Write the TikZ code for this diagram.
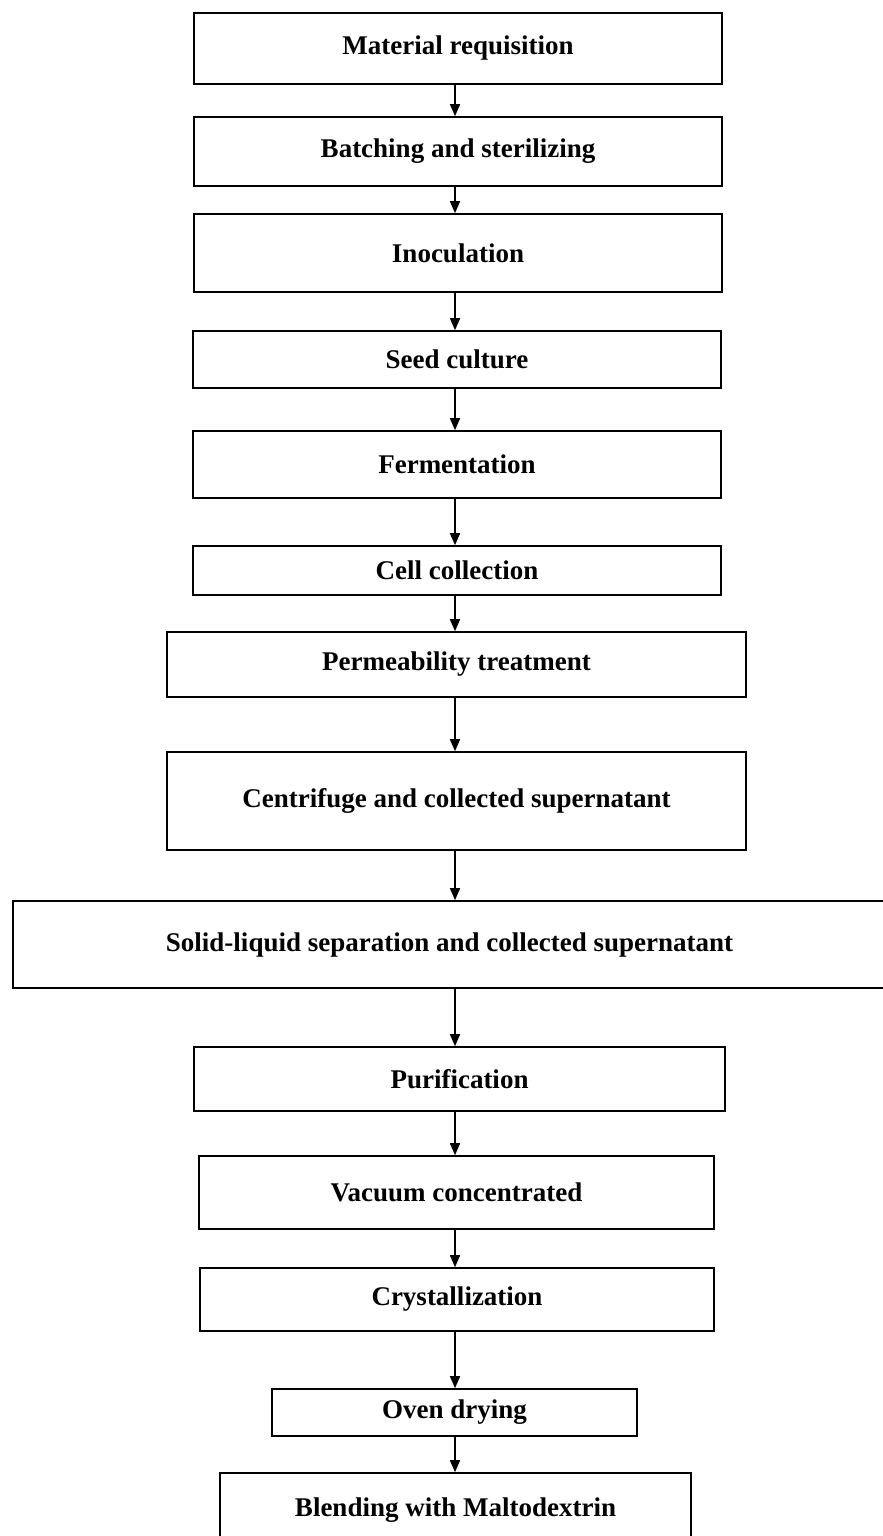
\documentclass[tikz,border=0pt]{standalone}
\usepackage{fontspec}
\setmainfont{Liberation Serif}
\usetikzlibrary{arrows.meta}
\begin{document}
\begin{tikzpicture}[x=1pt,y=-1pt,
  stepbox/.style={draw, line width=1.6pt, inner sep=0pt, align=center,
    font=\bfseries\fontsize{27}{32}\selectfont},
  arr/.style={line width=1.5pt, -{Triangle[length=12pt,width=10pt]}}]
\useasboundingbox (0,0) rectangle (883,1536);
\newcommand\flowbox[6]{%
  \node[stepbox, minimum width={(#4-#2)*1pt}, minimum height={(#5-#3)*1pt}]
    (#1) at ({(#2+#4)/2},{(#3+#5)/2}) {#6};}
\flowbox{m1}{194}{13}{722}{84}{Material requisition}
\flowbox{m2}{194}{117}{722}{186}{Batching and sterilizing}
\flowbox{m3}{194}{214}{722}{292}{Inoculation}
\flowbox{m4}{193}{331}{721}{388}{Seed culture}
\flowbox{m5}{193}{431}{721}{498}{Fermentation}
\flowbox{m6}{193}{546}{721}{595}{Cell collection}
\flowbox{m7}{167}{632}{746}{697}{Permeability treatment}
\flowbox{m8}{167}{752}{746}{850}{Centrifuge and collected supernatant}
\flowbox{m9}{13}{901}{886}{988}{Solid-liquid separation and collected supernatant}
\flowbox{m10}{194}{1047}{725}{1111}{Purification}
\flowbox{m11}{199}{1156}{714}{1229}{Vacuum concentrated}
\flowbox{m12}{200}{1268}{714}{1331}{Crystallization}
\flowbox{m13}{272}{1389}{637}{1436}{Oven drying}
\flowbox{m14}{220}{1473}{691}{1547}{Blending with Maltodextrin}
\coordinate (ax) at (455,0);
\foreach \a/\b in {m1/m2,m2/m3,m3/m4,m4/m5,m5/m6,m6/m7,m7/m8,m8/m9,m9/m10,m10/m11,m11/m12,m12/m13,m13/m14}
  \draw[arr] (\a.south -| ax) -- (\b.north -| ax);
\end{tikzpicture}
\end{document}
